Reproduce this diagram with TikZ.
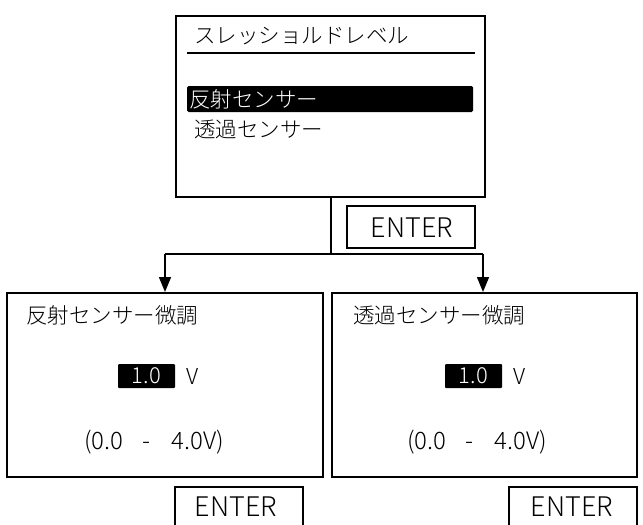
\documentclass[tikz,border=0pt]{standalone}
\usepackage{fontspec}
\newfontfamily\jp{Noto Sans CJK JP}[UprightFont=* Light]
\usetikzlibrary{arrows.meta}
\tikzset{
  panel/.style={draw=black, line width=2pt, rectangle, inner sep=0pt},
  keybox/.style={draw=black, line width=2pt, rectangle, inner sep=0pt, minimum width=128pt},
  keytext/.style={font=\jp\fontsize{27}{27}\selectfont, inner sep=0pt},
  jtext/.style={font=\jp\fontsize{21.5}{22}\selectfont, inner sep=0pt, anchor=west},
  rangetext/.style={font=\jp\fontsize{24}{24}\selectfont, inner sep=0pt, anchor=west},
  hl/.style={fill=black, text=white, inner sep=0pt},
  conn/.style={line width=1.5pt},
  arr/.style={conn, -{Triangle[width=12pt,length=15pt]}},
}
\begin{document}
\begin{tikzpicture}[x=1pt,y=-1pt]
\useasboundingbox (0,0) rectangle (643,525);
\begin{scope}
\clip (0,0) rectangle (643,525);
% panels
\node[panel, minimum width=309pt, minimum height=181pt] (top) at (330.5,106.5) {};
\node[panel, minimum width=316pt, minimum height=184pt] (left) at (165,385) {};
\node[panel, minimum width=305pt, minimum height=184pt] (right) at (484.5,385) {};
% enter keys
\node[keybox, minimum height=42pt] (enter1) at (411,227) {};
\node[keytext] (enter1t) at (412,228) {ENTER};
\node[keybox, minimum height=60pt] (enter2) at (239,517) {};
\node[keybox, minimum height=60pt] (enter3) at (573,517) {};
\node[keytext] (enter2t) at (236,507) {ENTER};
\node[keytext] (enter3t) at (572,507) {ENTER};
\end{scope}
% top panel contents
\node[jtext] (title) at (194,36) {スレッショルドレベル};
\draw[line width=2pt] (187,52.5) coordinate (ul1) -- (475,52.5) coordinate (ul2);
\node[jtext, hl, minimum width=286pt, minimum height=26pt, text width=284pt, align=left, rounded corners=1.5pt] (sel) at (187,99) {\hspace{1pt}反射センサー};
\node[jtext] (opt2) at (194,129) {透過センサー};
% left panel contents
\node[jtext] (ltitle) at (26,315) {反射センサー微調};
\node[hl, font=\jp\fontsize{22}{22}\selectfont, minimum width=57pt, minimum height=24pt, rounded corners=1pt] (lval) at (146.5,376) {1.0\hspace{5pt}};
\node[jtext, font=\jp\fontsize{22}{22}\selectfont] (lunit) at (186,376) {V};
\node[rangetext] (lrange) at (84,442) {(0.0\hspace{19pt}-\hspace{21pt}4.0V)};
% right panel contents
\node[jtext] (rtitle) at (353,315) {透過センサー微調};
\node[hl, font=\jp\fontsize{22}{22}\selectfont, minimum width=57pt, minimum height=24pt, rounded corners=1pt] (rval) at (473.5,376) {1.0\hspace{5pt}};
\node[jtext, font=\jp\fontsize{22}{22}\selectfont] (runit) at (513,376) {V};
\node[rangetext] (rrange) at (407,442) {(0.0\hspace{19pt}-\hspace{21pt}4.0V)};
% connectors
\coordinate (j) at (331,254);
\coordinate (jl) at (165,254);
\coordinate (jr) at (483,254);
\draw[conn] (top.south -| j) -- (j);
\draw[conn] (jl) -- (jr);
\draw[arr] (jl) -- (jl |- left.north);
\draw[arr] (jr) -- (jr |- right.north);
\end{tikzpicture}
\end{document}
